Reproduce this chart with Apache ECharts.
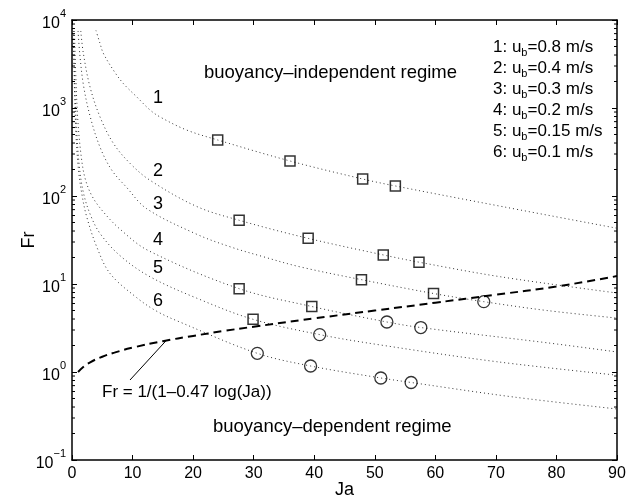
<!DOCTYPE html>
<html>
<head>
<meta charset="utf-8">
<script src="https://cdn.jsdelivr.net/npm/echarts@6/dist/echarts.min.js"></script>
<style>
  html, body { margin: 0; padding: 0; background: #fff; }
  #chart { width: 640px; height: 498px; }
</style>
</head>
<body>
<div id="chart"></div>
<script>
// Fr versus Ja for six bubble velocities (dotted curves), measured points and the regime boundary.

// dotted model curves, [Ja, Fr]
const curve1 = [[3.96,7600],[4.62,5430],[5.17,4190],[6.82,2700],[8.47,1900],[10.68,1340],[12.88,950],[14.5,794],[18.9,563],[24.06,433],[36.0,250],[48.0,156],[53.4,130],[71.2,75.5],[90,43]];
const curve2 = [[1.45,7500],[1.87,4200],[2.97,1740],[4.62,794],[6.82,398],[9.58,235],[12.88,151],[20.6,76],[27.6,53],[39.0,33],[51.4,21.4],[57.3,17.7],[70.7,12.1],[90,7.9]];
const curve3 = [[1.0,7500],[1.3,4000],[1.9,1800],[3.0,800],[4.62,360],[6.56,197],[9.03,125],[12.3,72],[20.5,37],[26.1,26.5],[31.6,20.4],[37.6,15.7],[47.8,11.2],[59.7,7.8],[68.0,6.3],[78.4,5.0],[90,4.1]];
const curve4 = [[0.4,7500],[0.6,2600],[0.95,750],[1.5,290],[2.15,160],[3.3,100],[5.17,66],[7.93,42],[12.6,24],[27.6,8.85],[39.6,5.55],[52.0,3.7],[57.6,3.2],[78.4,2.15],[90,1.69]];
const curve5 = [[0.26,7500],[0.45,2000],[0.75,600],[1.2,220],[1.87,110],[3.0,62],[4.62,37.6],[7.93,21],[12.88,12.1],[20.6,6.9],[29.9,3.97],[40.9,2.66],[50.9,2.03],[70.1,1.31],[90,0.92]];
const curve6 = [[0.2,7500],[0.41,1620],[0.66,498],[1.07,199],[1.65,103],[2.43,58],[4.08,26.5],[6.27,13.2],[10.68,7.0],[14.0,4.9],[17.8,3.7],[30.6,1.63],[39.4,1.17],[51.0,0.855],[56.0,0.76],[72.9,0.52],[90,0.38]];
const curves = [curve1, curve2, curve3, curve4, curve5, curve6];

// regime boundary Fr = 1/(1-0.47 log(Ja))
const boundary = [[1,1.0],[2,1.16],[3,1.29],[5,1.49],[7,1.66],[10,1.89],[15,2.24],[20,2.57],[25,2.92],[30,3.27],[40,4.06],[50,4.99],[60,6.13],[70,7.55],[80,9.37],[90,12.3]];

// buoyancy-independent points (squares) and buoyancy-dependent points (circles)
const squares = [[24.06,433],[36.0,250],[48.0,156],[53.4,130],
                 [27.6,53],[39.0,33],[51.4,21.4],[57.3,17.7],
                 [47.8,11.2],[59.7,7.8],
                 [27.6,8.85],[39.6,5.55],
                 [29.9,3.97]];
const circles = [[68.0,6.3],
                 [52.0,3.7],[57.6,3.2],
                 [40.9,2.66],
                 [30.6,1.63],[39.4,1.17],[51.0,0.855],[56.0,0.76]];

// log-axis minor tick values
const minorTicks = [];
for (let e = -1; e < 4; e++) for (let m = 2; m <= 9; m++) minorTicks.push(m * Math.pow(10, e));

const curveNames = ['1', '2', '3', '4', '5', '6'];
const legendRows = [['1', '0.8'], ['2', '0.4'], ['3', '0.3'], ['4', '0.2'], ['5', '0.15'], ['6', '0.1']];

const FONT = '"Liberation Sans", Arial, Helvetica, sans-serif';

const chart = echarts.init(document.getElementById('chart'), null, { renderer: 'canvas' });

const axisLineStyle = { color: '#000', width: 1.5 };

const series = [];
curves.forEach((c, i) => {
  series.push({
    type: 'line', name: 'curve' + (i + 1), data: c, symbol: 'none', smooth: 0.35,
    lineStyle: { color: '#333', width: 1, type: [1, 3] }, silent: true, z: 2
  });
});
series.push({
  type: 'line', name: 'boundary', data: boundary, symbol: 'none', smooth: true,
  lineStyle: { color: '#000', width: 2, type: [8, 5] }, silent: true, z: 3
});
series.push({
  type: 'scatter', name: 'squares', data: squares, symbol: 'rect', symbolSize: 10,
  itemStyle: { color: 'rgba(0,0,0,0)', borderColor: '#000', borderWidth: 1.5 }, z: 4
});
series.push({
  type: 'scatter', name: 'circles', data: circles, symbol: 'circle', symbolSize: 12,
  itemStyle: { color: 'rgba(0,0,0,0)', borderColor: '#000', borderWidth: 1.3 }, z: 4
});
series.push({
  type: 'custom', name: 'minorTicks', data: minorTicks.map(v => [0, v]), silent: true, clip: false, z: 5,
  renderItem: function (params, api) {
    const v = api.value(1);
    const pl = api.coord([0, v]);
    const pr = api.coord([90, v]);
    return {
      type: 'group', children: [
        { type: 'line', shape: { x1: pl[0], y1: pl[1], x2: pl[0] + 3, y2: pl[1] }, style: { stroke: '#000', lineWidth: 1 } },
        { type: 'line', shape: { x1: pr[0] - 3, y1: pr[1], x2: pr[0], y2: pr[1] }, style: { stroke: '#000', lineWidth: 1 } }
      ]
    };
  }
});

const graphics = [];
// curve numbers
const numPos = [[153, 98], [153, 171], [153, 204], [153, 240], [153, 268], [153, 301]];
curveNames.forEach((n, i) => {
  graphics.push({ type: 'text', x: numPos[i][0], y: numPos[i][1], silent: true,
    style: { text: n, font: '18px ' + FONT, fill: '#000', align: 'left', verticalAlign: 'middle' } });
});
// region labels
graphics.push({ type: 'text', x: 204, y: 73, silent: true,
  style: { text: 'buoyancy–independent regime', font: '18.5px ' + FONT, fill: '#000', align: 'left', verticalAlign: 'middle' } });
graphics.push({ type: 'text', x: 213, y: 427, silent: true,
  style: { text: 'buoyancy–dependent regime', font: '18.5px ' + FONT, fill: '#000', align: 'left', verticalAlign: 'middle' } });
// boundary formula with pointer
graphics.push({ type: 'text', x: 102, y: 392, silent: true,
  style: { text: 'Fr = 1/(1–0.47 log(Ja))', font: '17px ' + FONT, fill: '#000', align: 'left', verticalAlign: 'middle' } });
graphics.push({ type: 'line', silent: true, shape: { x1: 130, y1: 380, x2: 166.7, y2: 340 },
  style: { stroke: '#000', lineWidth: 1 } });
// velocity key
legendRows.forEach((r, i) => {
  graphics.push({ type: 'text', x: 493, y: 47 + i * 21, silent: true,
    style: {
      text: '{n|' + r[0] + ': u}{s|b}{n|=' + r[1] + ' m/s}',
      fill: '#000', align: 'left', verticalAlign: 'middle',
      rich: {
        n: { fontSize: 17, fontFamily: FONT, fill: '#000', lineHeight: 22, verticalAlign: 'middle' },
        s: { fontSize: 11, fontFamily: FONT, fill: '#000', lineHeight: 22, verticalAlign: 'bottom' }
      }
    } });
});

const option = {
  animation: false,
  backgroundColor: '#fff',
  textStyle: { fontFamily: FONT },
  grid: { left: 72, right: 23, top: 20, bottom: 38, containLabel: false, outerBoundsMode: 'none' },
  xAxis: [{
    type: 'value', min: 0, max: 90, interval: 10, position: 'bottom',
    name: 'Ja', nameLocation: 'middle', nameGap: 21, nameMoveOverlap: false,
    nameTextStyle: { fontSize: 18, color: '#000', fontFamily: FONT },
    axisLine: { show: true, onZero: false, lineStyle: axisLineStyle },
    axisTick: { show: true, inside: true, length: 5, lineStyle: { color: '#000', width: 1 } },
    axisLabel: { fontSize: 16, color: '#000', margin: 6, fontFamily: FONT },
    splitLine: { show: false }
  }, {
    type: 'value', min: 0, max: 90, interval: 10, position: 'top',
    axisLine: { show: true, onZero: false, lineStyle: axisLineStyle },
    axisTick: { show: true, inside: true, length: 5, lineStyle: { color: '#000', width: 1 } },
    axisLabel: { show: false }, splitLine: { show: false }
  }],
  yAxis: [{
    type: 'log', logBase: 10, min: 0.1, max: 10000, position: 'left',
    name: 'Fr', nameLocation: 'middle', nameGap: 34, nameRotate: 90, nameMoveOverlap: false,
    nameTextStyle: { fontSize: 18, color: '#000', fontFamily: FONT },
    axisLine: { show: true, onZero: false, lineStyle: axisLineStyle },
    axisTick: { show: true, inside: true, length: 5, lineStyle: { color: '#000', width: 1 } },
    axisLabel: {
      margin: 6, color: '#000',
      formatter: function (v) {
        const e = Math.round(Math.log10(v));
        return '{b|10}{e|' + (e < 0 ? '−' + (-e) : e) + '}';
      },
      rich: {
        b: { fontSize: 16, fontFamily: FONT, color: '#000', lineHeight: 24, verticalAlign: 'bottom' },
        e: { fontSize: 11, fontFamily: FONT, color: '#000', lineHeight: 24, verticalAlign: 'top' }
      }
    },
    splitLine: { show: false }
  }, {
    type: 'log', logBase: 10, min: 0.1, max: 10000, position: 'right',
    axisLine: { show: true, onZero: false, lineStyle: axisLineStyle },
    axisTick: { show: true, inside: true, length: 5, lineStyle: { color: '#000', width: 1 } },
    axisLabel: { show: false }, splitLine: { show: false }
  }],
  series: series,
  graphic: graphics
};

chart.setOption(option);
</script>
</body>
</html>
